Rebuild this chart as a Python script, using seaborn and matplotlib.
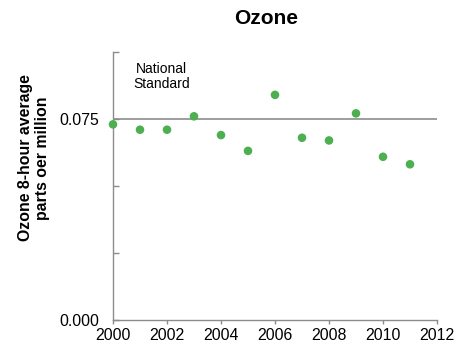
import matplotlib
matplotlib.use("Agg")
import matplotlib.pyplot as plt
import seaborn as sns
import pandas as pd

years = [2000, 2001, 2002, 2003, 2004, 2005, 2006, 2007, 2008, 2009, 2010, 2011]
ozone_ppm = [0.0730, 0.0710, 0.0710, 0.0760, 0.0690, 0.0631, 0.0840, 0.0680, 0.0670, 0.0771, 0.0609, 0.0581]
national_standard = 0.075
x_ticks = [2000, 2002, 2004, 2006, 2008, 2010, 2012]
y_ticks = [0.0, 0.025, 0.05, 0.075, 0.1]
y_tick_labels = ["0.000", "", "", "0.075", ""]

sns.set_theme(style="white")
plt.rcParams["font.family"] = ["Liberation Sans", "DejaVu Sans"]
plt.rcParams["text.color"] = "black"

df = pd.DataFrame({"year": years, "ozone": ozone_ppm})

fig = plt.figure(figsize=(4.61, 3.46), dpi=100)
ax = fig.add_axes([113 / 461, 1 - 320 / 346, (437 - 113) / 461, (320 - 52) / 346])

ax.axhline(national_standard, color="#8c8c8c", lw=1.2, zorder=1)
sns.scatterplot(data=df, x="year", y="ozone", ax=ax, color="#4caf50",
                s=38, edgecolor="none", zorder=3, clip_on=False)

ax.set_xlim(2000, 2012)
ax.set_ylim(0, 0.1)
ax.set_xticks(x_ticks)
ax.set_xticklabels([str(t) for t in x_ticks], fontsize=11.4)
ax.set_yticks(y_ticks)
ax.set_yticklabels(y_tick_labels, fontsize=11.4)
ax.set_xlabel("")
ax.set_ylabel("")

for side in ["top", "right"]:
    ax.spines[side].set_visible(False)
for side in ["left", "bottom"]:
    ax.spines[side].set_color("#8c8c8c")
    ax.spines[side].set_linewidth(1.0)

ax.tick_params(axis="x", bottom=True, direction="out", length=3, width=1,
               color="#8c8c8c", pad=3, labelcolor="black")
ax.tick_params(axis="y", left=True, direction="in", length=4, width=1,
               color="#8c8c8c", pad=10, labelcolor="black")

ax.text(2001.8, 0.091, "National\nStandard", ha="center", va="center",
        fontsize=10, linespacing=1.1, color="black")

fig.text(266 / 461, 1 - 19 / 346, "Ozone", ha="center", va="center",
         fontsize=15, fontweight="bold", color="black")
fig.text(34 / 461, 1 - 158 / 346, "Ozone 8-hour average\nparts oer million",
         ha="center", va="center", rotation=90, fontsize=11.4,
         fontweight="bold", linespacing=1.1, color="black")

fig.savefig("out.png", dpi=100)
